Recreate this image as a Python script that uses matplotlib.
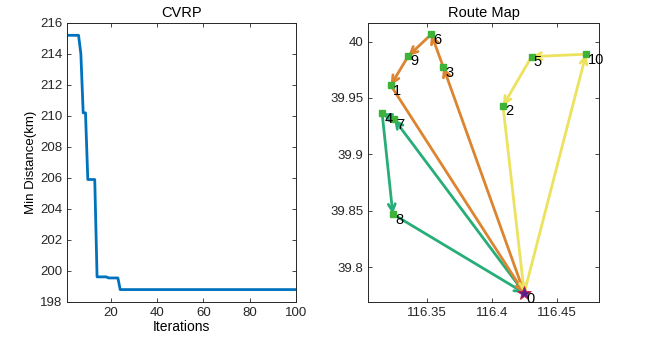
import matplotlib
matplotlib.use("Agg")
import matplotlib.pyplot as plt
from matplotlib.patches import FancyArrowPatch

plt.rcParams['font.family'] = ['Liberation Sans', 'DejaVu Sans']

# Convergence history: best total distance per iteration
iterations = list(range(1, 101))
best_distance = ([215.2] * 6 + [214.0] + [210.2] * 2 + [205.9] * 4
                 + [199.62] * 5 + [199.55] * 5 + [198.8] * 77)

# Customer / depot coordinates (node 0 is the depot)
node_ids = [0, 1, 2, 3, 4, 5, 6, 7, 8, 9, 10]
lon = [116.4247, 116.3224, 116.4084, 116.3627, 116.3158, 116.4303,
       116.3535, 116.3250, 116.3240, 116.3359, 116.4720]
lat = [39.7770, 39.9613, 39.9430, 39.9773, 39.9365, 39.9867,
       40.0066, 39.9312, 39.8470, 39.9873, 39.9888]

# Vehicle routes
routes = [
    [0, 7, 4, 8, 0],
    [0, 3, 6, 9, 1, 0],
    [0, 10, 5, 2, 0],
]
route_colors = ['#27ad78', '#dc8430', '#ece25e']

fig = plt.figure(figsize=(6.46, 3.42), dpi=100)
ax1 = fig.add_axes([0.1037, 0.117, 0.3545, 0.816])
ax2 = fig.add_axes([0.5697, 0.117, 0.3576, 0.816])

for ax in (ax1, ax2):
    ax.tick_params(direction='in', top=True, right=True, labelsize=9.5,
                   length=3, width=0.6, colors='#262626')
    for s in ax.spines.values():
        s.set_linewidth(0.7)
        s.set_color('#262626')

# Convergence curve
ax1.plot(iterations, best_distance, color='#0072BD', linewidth=2)
ax1.set_xlim(1, 100)
ax1.set_ylim(198, 216)
ax1.set_xticks([20, 40, 60, 80, 100])
ax1.set_yticks(range(198, 217, 2))
ax1.set_title('CVRP', fontsize=10.5, pad=4)
ax1.set_xlabel('Iterations', fontsize=10, labelpad=1)
ax1.set_ylabel('Min Distance(km)', fontsize=9.5, labelpad=2)

# Route map
for route, col in zip(routes, route_colors):
    for a, b in zip(route[:-1], route[1:]):
        arr = FancyArrowPatch((lon[a], lat[a]), (lon[b], lat[b]),
                              arrowstyle='->,head_length=5,head_width=2.5',
                              color=col, linewidth=2, shrinkA=0, shrinkB=0,
                              zorder=2)
        ax2.add_patch(arr)

ax2.plot(lon[1:], lat[1:], linestyle='none', marker='s', markersize=5,
         color='#3fb23a', zorder=3)
ax2.plot(lon[0], lat[0], linestyle='none', marker='*', markersize=10,
         markerfacecolor='#5b1f8f', markeredgecolor='#d02040',
         markeredgewidth=0.6, zorder=4)

for i, x, y in zip(node_ids, lon, lat):
    ax2.annotate(str(i), (x, y), xytext=(1.5, -4), textcoords='offset points',
                 fontsize=10.5, ha='left', va='center', zorder=5)

ax2.set_xlim(116.305, 116.482)
ax2.set_ylim(39.769, 40.0166)
ax2.set_xticks([116.35, 116.4, 116.45])
ax2.set_xticklabels(['116.35', '116.4', '116.45'])
ax2.set_yticks([39.8, 39.85, 39.9, 39.95, 40.0])
ax2.set_yticklabels(['39.8', '39.85', '39.9', '39.95', '40'])
ax2.set_title('Route Map', fontsize=10.5, pad=4)

fig.savefig('out.png', dpi=100)
